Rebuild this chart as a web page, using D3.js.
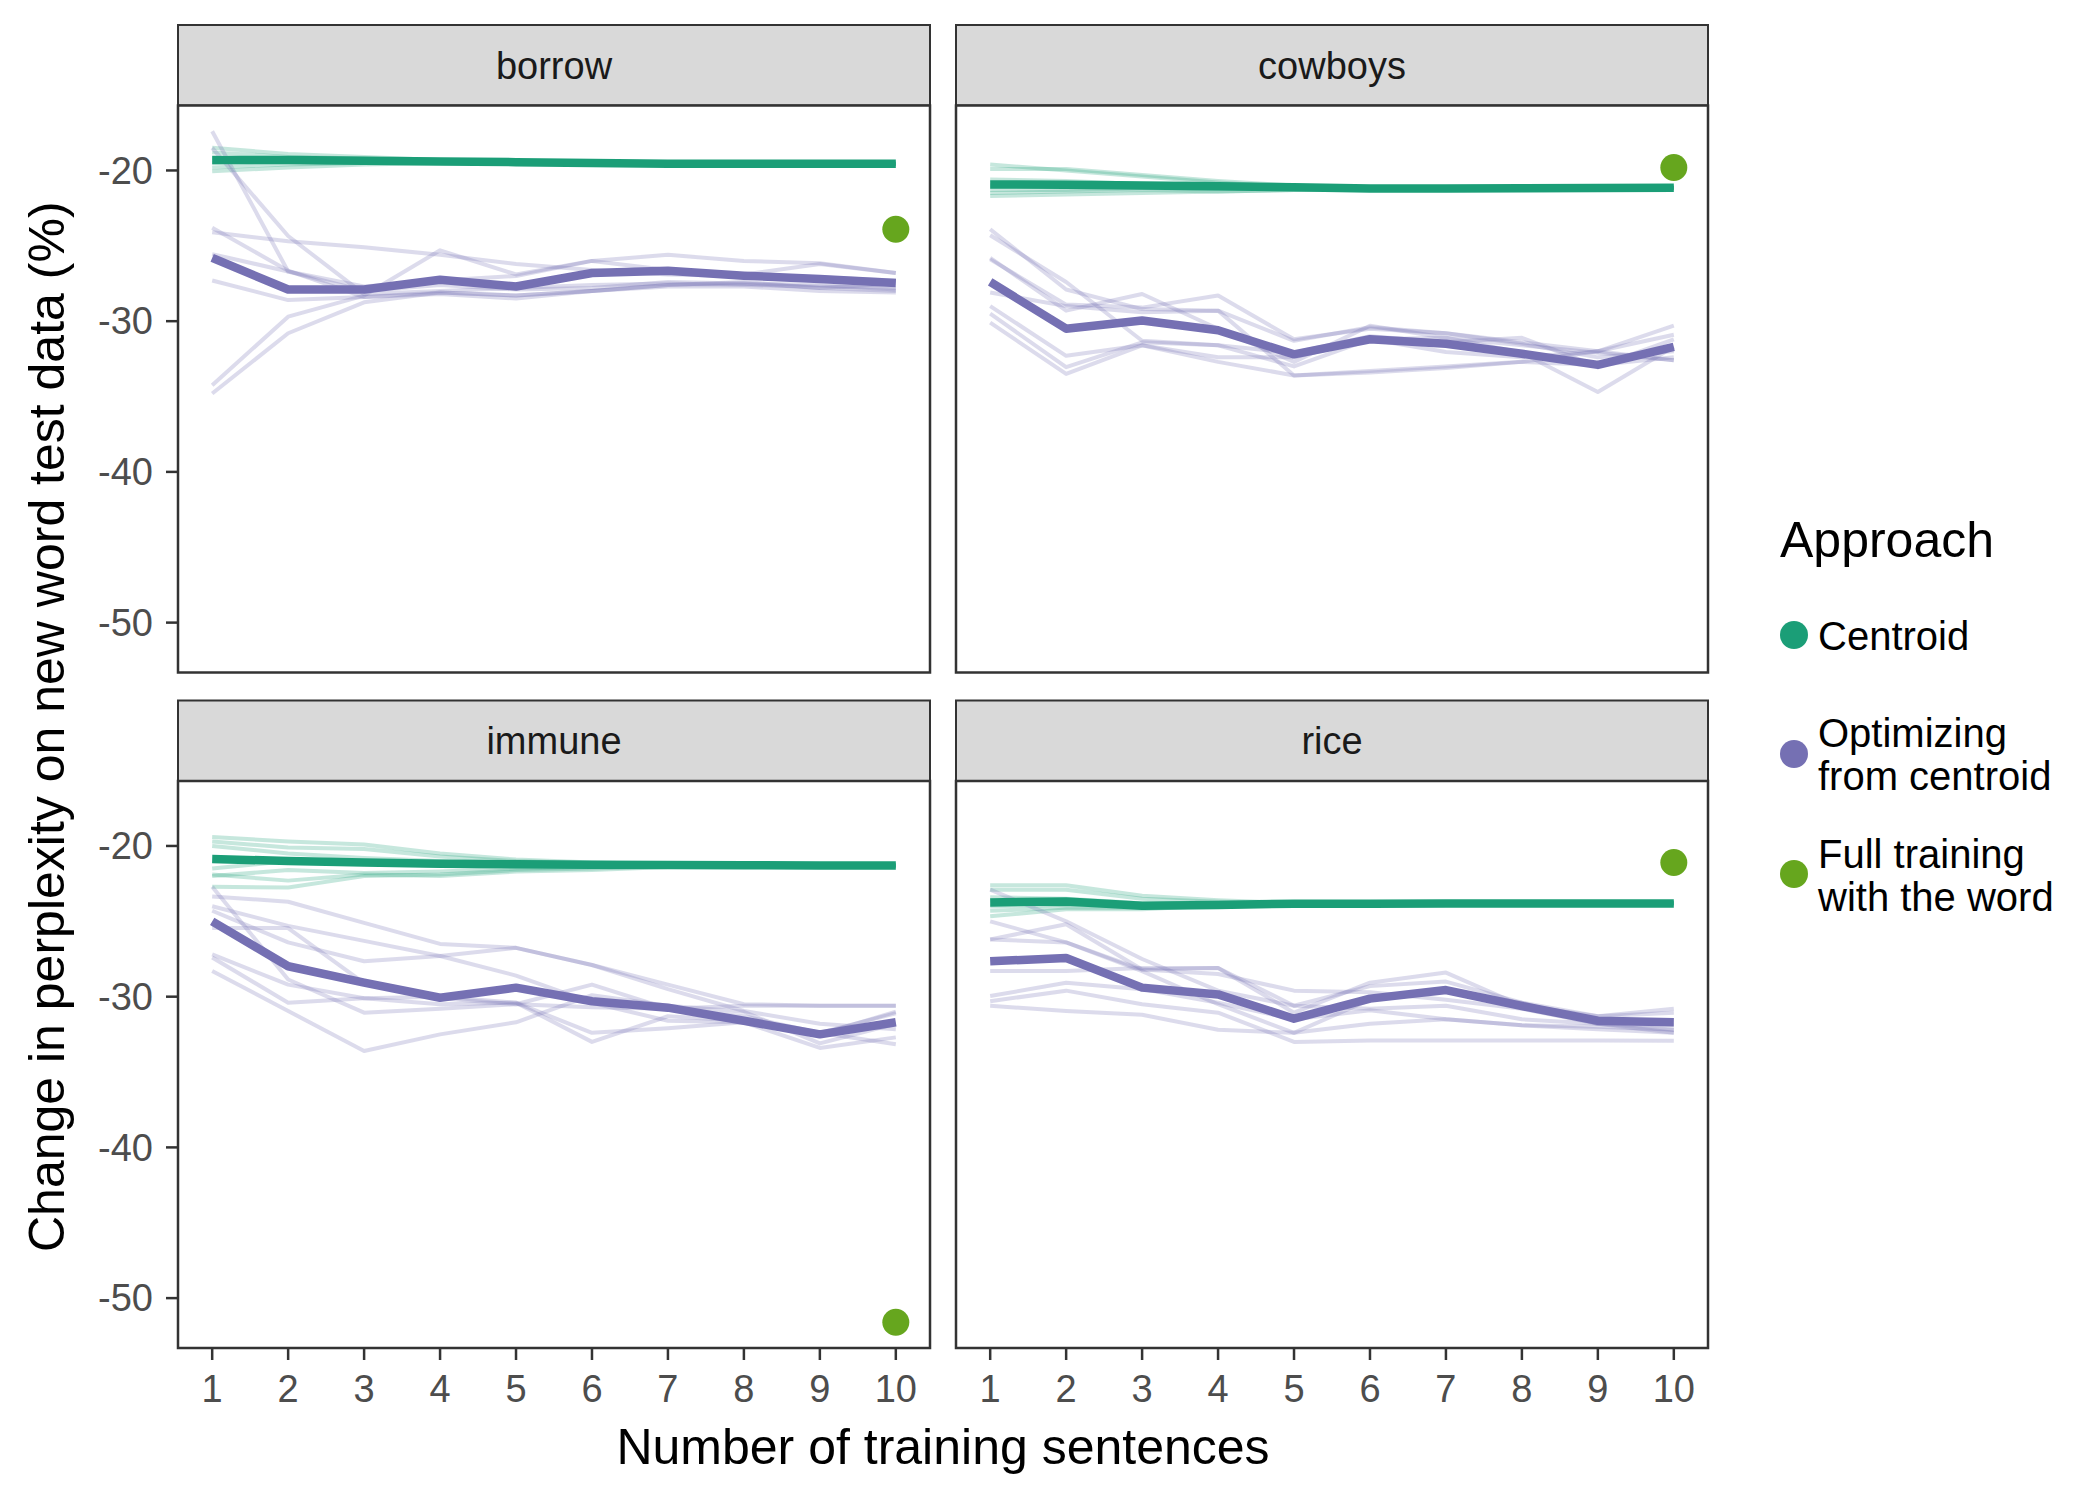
<!DOCTYPE html>
<html lang="en">
<head>
<meta charset="UTF-8">
<title>Change in perplexity on new word test data</title>
<style>
    body, html {
        margin: 0;
        padding: 0;
        background: #fff;
    }
    svg text {
        font-family: "Liberation Sans", Arial, Helvetica, sans-serif;
    }
</style>
<script src="https://d3js.org/d3.v7.min.js"></script>
</head>
<body>
<div id="chart"></div>
<script>
// ---- data ----
const words = ["borrow", "cowboys", "immune", "rice"];
const steps = [1, 2, 3, 4, 5, 6, 7, 8, 9, 10];
const yTicks = [-20, -30, -40, -50];
const approaches = ["Centroid", "Optimizing from centroid", "Full training with the word"];
const legendLabels = [["Centroid"], ["Optimizing", "from centroid"], ["Full training", "with the word"]];

// mean lines (thick)
const borrowCentroid  = [-19.3, -19.3, -19.35, -19.4, -19.45, -19.5, -19.55, -19.55, -19.55, -19.55];
const cowboysCentroid = [-20.93, -20.95, -21.0, -21.05, -21.12, -21.2, -21.2, -21.18, -21.17, -21.15];
const immuneCentroid  = [-20.86, -21.0, -21.1, -21.18, -21.22, -21.25, -21.27, -21.28, -21.3, -21.3];
const riceCentroid    = [-23.75, -23.68, -23.97, -23.92, -23.83, -23.83, -23.82, -23.82, -23.81, -23.81];

const borrowOptimized  = [-25.8, -27.9, -27.9, -27.25, -27.7, -26.8, -26.65, -26.98, -27.2, -27.47];
const cowboysOptimized = [-27.4, -30.5, -29.96, -30.6, -32.2, -31.2, -31.5, -32.16, -32.9, -31.7];
const immuneOptimized  = [-25.0, -27.98, -29.07, -30.07, -29.4, -30.3, -30.73, -31.6, -32.5, -31.7];
const riceOptimized    = [-27.65, -27.43, -29.4, -29.85, -31.46, -30.13, -29.56, -30.62, -31.6, -31.7];

// full training point at 10 sentences
const fullTraining = [-23.9, -19.8, -51.6, -21.1];

// individual runs (thin)
const borrowCentroidRuns = [
    [-18.5, -18.9, -19.1, -19.3, -19.4, -19.5, -19.55, -19.55, -19.55, -19.55],
    [-18.8, -19.1, -19.2, -19.35, -19.45, -19.5, -19.55, -19.55, -19.55, -19.55],
    [-19.2, -19.2, -19.3, -19.4, -19.45, -19.5, -19.55, -19.55, -19.55, -19.55],
    [-19.5, -19.4, -19.4, -19.45, -19.45, -19.5, -19.55, -19.55, -19.55, -19.55],
    [-19.8, -19.6, -19.5, -19.5, -19.5, -19.5, -19.55, -19.55, -19.55, -19.55],
    [-20.05, -19.8, -19.6, -19.5, -19.5, -19.55, -19.55, -19.55, -19.55, -19.55]
];
const cowboysCentroidRuns = [
    [-19.6, -20.0, -20.4, -20.8, -21.1, -21.2, -21.2, -21.2, -21.2, -21.15],
    [-19.9, -19.9, -20.3, -20.7, -21.0, -21.2, -21.2, -21.2, -21.2, -21.15],
    [-20.6, -20.7, -20.9, -21.0, -21.1, -21.2, -21.2, -21.2, -21.2, -21.15],
    [-21.0, -21.0, -21.0, -21.1, -21.2, -21.2, -21.2, -21.2, -21.2, -21.15],
    [-21.3, -21.3, -21.2, -21.2, -21.2, -21.2, -21.2, -21.2, -21.2, -21.15],
    [-21.5, -21.4, -21.3, -21.4, -21.3, -21.25, -21.2, -21.2, -21.2, -21.15],
    [-21.7, -21.6, -21.5, -21.4, -21.3, -21.25, -21.2, -21.2, -21.2, -21.15]
];
const immuneCentroidRuns = [
    [-19.4, -19.7, -19.9, -20.5, -20.9, -21.1, -21.2, -21.25, -21.3, -21.3],
    [-19.7, -20.1, -20.2, -20.7, -21.0, -21.15, -21.25, -21.3, -21.3, -21.3],
    [-20.0, -20.5, -20.8, -21.0, -21.1, -21.2, -21.25, -21.3, -21.3, -21.3],
    [-21.5, -21.0, -21.2, -21.3, -21.3, -21.3, -21.3, -21.3, -21.3, -21.3],
    [-22.0, -21.6, -21.8, -21.7, -21.5, -21.4, -21.3, -21.3, -21.3, -21.3],
    [-22.7, -22.76, -22.0, -21.9, -21.6, -21.5, -21.35, -21.3, -21.3, -21.3],
    [-21.9, -22.3, -21.9, -22.0, -21.7, -21.6, -21.4, -21.35, -21.3, -21.3]
];
const riceCentroidRuns = [
    [-22.6, -22.6, -23.3, -23.6, -23.8, -23.8, -23.8, -23.8, -23.8, -23.8],
    [-22.9, -22.9, -23.5, -23.7, -23.8, -23.8, -23.8, -23.8, -23.8, -23.8],
    [-23.4, -23.5, -23.8, -23.8, -23.8, -23.8, -23.8, -23.8, -23.8, -23.8],
    [-24.0, -23.9, -24.0, -23.9, -23.85, -23.85, -23.8, -23.8, -23.8, -23.8],
    [-24.3, -24.1, -24.1, -23.9, -23.85, -23.85, -23.8, -23.8, -23.8, -23.8],
    [-24.67, -24.2, -24.2, -23.95, -23.9, -23.85, -23.8, -23.8, -23.8, -23.8]
];

const borrowOptimizedRuns = [
    [-17.4, -26.7, -28.0, -27.6, -27.9, -27.8, -27.4, -27.5, -27.8, -27.5],
    [-18.5, -24.35, -28.2, -28.0, -27.8, -27.6, -27.5, -27.6, -27.7, -27.8],
    [-23.8, -26.65, -28.4, -28.1, -28.3, -28.0, -27.6, -27.4, -27.8, -28.0],
    [-24.1, -24.7, -25.1, -25.6, -26.2, -26.6, -26.9, -27.0, -27.1, -27.3],
    [-25.55, -26.7, -27.7, -27.3, -27.0, -26.0, -26.6, -26.9, -26.2, -26.8],
    [-27.3, -28.6, -28.4, -28.2, -28.5, -28.0, -27.6, -27.5, -27.6, -27.9],
    [-34.25, -29.7, -28.3, -25.3, -26.9, -26.0, -25.6, -26.0, -26.15, -26.8],
    [-34.8, -30.8, -28.75, -28.1, -28.3, -28.0, -27.7, -27.7, -28.0, -28.1]
];
const cowboysOptimizedRuns = [
    [-23.9, -27.9, -29.2, -29.3, -31.3, -30.4, -30.8, -31.4, -32.0, -30.9],
    [-24.3, -27.4, -31.3, -31.6, -32.1, -31.0, -31.4, -31.1, -33.0, -31.2],
    [-25.8, -29.3, -28.2, -30.5, -32.7, -30.3, -31.1, -32.1, -34.7, -31.7],
    [-25.9, -28.9, -29.1, -28.3, -31.2, -30.5, -30.8, -31.5, -32.4, -32.0],
    [-28.1, -29.0, -29.4, -29.3, -33.6, -33.3, -33.0, -32.7, -32.9, -32.4],
    [-29.0, -32.3, -31.6, -32.4, -32.4, -31.2, -32.05, -32.4, -32.0, -30.3],
    [-29.5, -33.05, -31.4, -31.6, -33.0, -31.2, -31.1, -31.6, -32.1, -32.6],
    [-30.1, -33.5, -31.6, -32.7, -33.6, -33.4, -33.1, -32.7, -32.0, -32.6]
];
const immuneOptimizedRuns = [
    [-23.35, -23.7, -25.1, -26.5, -26.76, -27.9, -29.2, -30.5, -30.6, -30.6],
    [-22.7, -28.86, -31.06, -30.8, -30.5, -29.2, -30.8, -31.3, -32.4, -31.1],
    [-24.0, -25.3, -26.3, -27.3, -28.6, -30.4, -31.6, -31.7, -32.5, -31.0],
    [-24.3, -26.4, -27.65, -27.3, -26.76, -27.9, -29.5, -30.95, -31.8, -32.16],
    [-25.45, -25.45, -29.1, -30.1, -30.5, -30.7, -30.8, -30.6, -30.6, -30.6],
    [-27.2, -29.2, -30.1, -30.5, -30.4, -32.4, -32.1, -31.7, -33.4, -32.7],
    [-27.4, -30.4, -30.1, -30.0, -30.4, -33.0, -31.3, -31.6, -32.4, -33.15],
    [-28.3, -30.95, -33.6, -32.5, -31.7, -29.9, -30.6, -31.0, -33.1, -31.8]
];
const riceOptimizedRuns = [
    [-22.9, -25.0, -27.5, -29.6, -30.6, -29.3, -29.0, -30.4, -31.3, -30.8],
    [-26.2, -25.2, -28.2, -28.1, -31.06, -29.07, -28.4, -30.6, -31.3, -31.06],
    [-26.2, -26.4, -28.2, -28.5, -29.6, -29.7, -30.2, -30.8, -31.8, -31.9],
    [-25.0, -26.4, -28.3, -30.5, -32.4, -30.2, -29.6, -30.4, -31.8, -32.2],
    [-28.3, -28.3, -28.1, -28.1, -30.6, -30.8, -30.6, -31.5, -31.8, -32.4],
    [-29.96, -29.07, -29.5, -30.4, -31.5, -30.9, -31.5, -31.9, -32.16, -32.4],
    [-30.3, -29.6, -30.5, -31.06, -33.0, -32.9, -32.9, -32.9, -32.9, -32.93],
    [-30.6, -30.95, -31.2, -32.2, -32.4, -31.8, -31.5, -31.9, -32.0, -32.2]
];

// ---- layout ----
const width = 2100, height = 1500;
const colX = [178, 956], panelW = 752;
const stripTop = [25, 700.5], stripH = 80.5, panelH = 567;
const colors = ["#1B9E77", "#7570B3", "#66A61E"];

const facets = [
    { word: words[0], centroid: borrowCentroid,  optimized: borrowOptimized,  cRuns: borrowCentroidRuns,  oRuns: borrowOptimizedRuns,  full: fullTraining[0] },
    { word: words[1], centroid: cowboysCentroid, optimized: cowboysOptimized, cRuns: cowboysCentroidRuns, oRuns: cowboysOptimizedRuns, full: fullTraining[1] },
    { word: words[2], centroid: immuneCentroid,  optimized: immuneOptimized,  cRuns: immuneCentroidRuns,  oRuns: immuneOptimizedRuns,  full: fullTraining[2] },
    { word: words[3], centroid: riceCentroid,    optimized: riceOptimized,    cRuns: riceCentroidRuns,    oRuns: riceOptimizedRuns,    full: fullTraining[3] }
];

// shared y range with ggplot-style 5% expansion
const allVals = facets.flatMap(f => [...f.centroid, ...f.optimized, ...f.cRuns.flat(), ...f.oRuns.flat(), f.full]);
const [yMin, yMax] = d3.extent(allVals);
const yPad = (yMax - yMin) * 0.05;

const x = d3.scaleLinear()
    .domain([1 - 0.45, 10 + 0.45])
    .range([0, panelW]);
const y = d3.scaleLinear()
    .domain([yMin - yPad, yMax + yPad])
    .range([panelH, 0]);

const line = d3.line()
    .x((d, i) => x(steps[i]))
    .y(d => y(d));

const svg = d3.select("#chart").append("svg")
    .attr("width", width)
    .attr("height", height);

svg.append("rect").attr("width", width).attr("height", height).attr("fill", "#fff");

facets.forEach((f, i) => {
    const col = i % 2, row = Math.floor(i / 2);
    const g = svg.append("g")
        .attr("transform", `translate(${colX[col]}, ${stripTop[row]})`);

    // strip
    g.append("rect")
        .attr("width", panelW).attr("height", stripH)
        .attr("fill", "#D9D9D9")
        .attr("stroke", "#333").attr("stroke-width", 2);
    g.append("text")
        .attr("x", panelW / 2).attr("y", stripH / 2)
        .attr("dy", ".35em")
        .attr("text-anchor", "middle")
        .attr("font-size", 38)
        .attr("fill", "#1A1A1A")
        .text(f.word);

    const p = g.append("g").attr("transform", `translate(0, ${stripH})`);

    p.append("rect")
        .attr("width", panelW).attr("height", panelH)
        .attr("fill", "#fff");

    // thin runs
    p.selectAll(".crun").data(f.cRuns).enter().append("path")
        .attr("d", line)
        .attr("fill", "none")
        .attr("stroke", colors[0]).attr("stroke-opacity", 0.25)
        .attr("stroke-width", 4).attr("stroke-linejoin", "round");
    p.selectAll(".orun").data(f.oRuns).enter().append("path")
        .attr("d", line)
        .attr("fill", "none")
        .attr("stroke", colors[1]).attr("stroke-opacity", 0.25)
        .attr("stroke-width", 4).attr("stroke-linejoin", "round");

    // mean lines
    p.append("path").datum(f.centroid)
        .attr("d", line).attr("fill", "none")
        .attr("stroke", colors[0]).attr("stroke-width", 8.5).attr("stroke-linejoin", "round");
    p.append("path").datum(f.optimized)
        .attr("d", line).attr("fill", "none")
        .attr("stroke", colors[1]).attr("stroke-width", 8.5).attr("stroke-linejoin", "round");

    p.append("circle")
        .attr("cx", x(10)).attr("cy", y(f.full))
        .attr("r", 13.5)
        .attr("fill", colors[2]);

    p.append("rect")
        .attr("width", panelW).attr("height", panelH)
        .attr("fill", "none")
        .attr("stroke", "#333").attr("stroke-width", 2.5);

    // y axis on left column
    if (col === 0) {
        const ya = p.append("g");
        yTicks.forEach(t => {
            ya.append("line")
                .attr("x1", -12).attr("x2", 0)
                .attr("y1", y(t)).attr("y2", y(t))
                .attr("stroke", "#333").attr("stroke-width", 2.5);
            ya.append("text")
                .attr("x", -25).attr("y", y(t))
                .attr("dy", ".35em")
                .attr("text-anchor", "end")
                .attr("font-size", 38)
                .attr("fill", "#4D4D4D")
                .text(t);
        });
    }
    // x axis on bottom row
    if (row === 1) {
        const xa = p.append("g").attr("transform", `translate(0, ${panelH})`);
        steps.forEach(t => {
            xa.append("line")
                .attr("x1", x(t)).attr("x2", x(t))
                .attr("y1", 0).attr("y2", 12)
                .attr("stroke", "#333").attr("stroke-width", 2.5);
            xa.append("text")
                .attr("x", x(t)).attr("y", 54)
                .attr("text-anchor", "middle")
                .attr("font-size", 38)
                .attr("fill", "#4D4D4D")
                .text(t);
        });
    }
});

// axis titles
svg.append("text")
    .attr("x", (colX[0] + colX[1] + panelW) / 2)
    .attr("y", 1464)
    .attr("text-anchor", "middle")
    .attr("font-size", 50)
    .attr("fill", "#000")
    .text("Number of training sentences");

const yMid = (stripTop[0] + stripH + stripTop[1] + stripH + panelH) / 2;
svg.append("text")
    .attr("transform", `translate(64, ${yMid}) rotate(-90)`)
    .attr("text-anchor", "middle")
    .attr("font-size", 50)
    .attr("fill", "#000")
    .text("Change in perplexity on new word test data (%)");

// legend
const legend = svg.append("g").attr("transform", "translate(1780, 0)");
legend.append("text")
    .attr("x", 0).attr("y", 557)
    .attr("font-size", 50)
    .text("Approach");

const keyY = [635, 754, 874];
const firstBaseline = [650, 747, 868];
approaches.forEach((a, i) => {
    legend.append("circle")
        .attr("cx", 14).attr("cy", keyY[i])
        .attr("r", 14)
        .attr("fill", colors[i]);
    const t = legend.append("text")
        .attr("x", 38).attr("y", firstBaseline[i])
        .attr("font-size", 40);
    legendLabels[i].forEach((s, j) => {
        t.append("tspan")
            .attr("x", 38)
            .attr("y", firstBaseline[i] + j * 43)
            .text(s);
    });
});
</script>
</body>
</html>
